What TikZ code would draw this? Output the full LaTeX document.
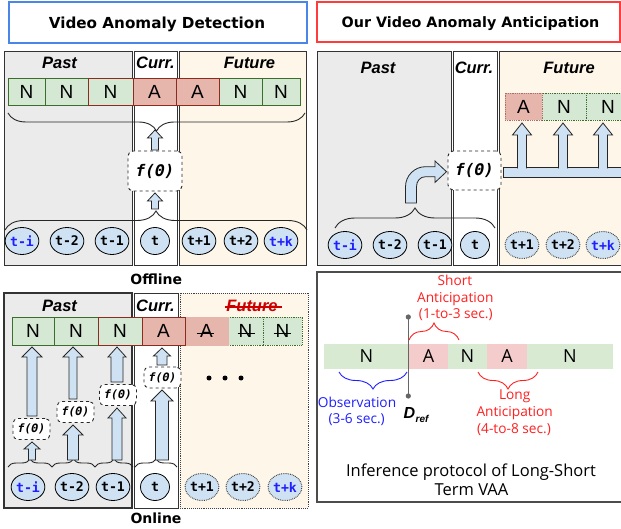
\documentclass[tikz,border=0pt]{standalone}
\usepackage{fontspec}
\setmainfont{Liberation Sans}
\newfontfamily\djb{DejaVu Sans}
\newfontfamily\djm{DejaVu Sans Mono}
\newfontfamily\osf{Open Sans}
\usetikzlibrary{decorations.pathreplacing,calc,shapes.geometric}
\definecolor{pastgray}{HTML}{EBEBEB}
\definecolor{futcream}{HTML}{FEF7E9}
\definecolor{cellgreen}{HTML}{D5E8D4}
\definecolor{cellred}{HTML}{E6B5AB}
\definecolor{greenline}{HTML}{3B6E2A}
\definecolor{redline}{HTML}{8E2B1F}
\definecolor{tblue}{HTML}{CFE2F3}
\definecolor{barg}{HTML}{D9EAD3}
\definecolor{barp}{HTML}{F4CCCC}
\definecolor{titleblue}{HTML}{4A86E8}
\definecolor{titlered}{HTML}{FF3B3B}
\definecolor{txtblue}{HTML}{1F1FFF}
\definecolor{annred}{HTML}{FF2020}
\definecolor{annblue}{HTML}{2020FF}
\newcommand\fsz[2]{\fontsize{#1}{#2}\selectfont}
\newcommand\cellnode[7]{\node[#6, minimum width={#3-#2}, minimum height={#5-#4}] (#1) at ({(#2+#3)/2},{(#4+#5)/2}) {#7};}
% block arrow from coordinate #1 (base) to coordinate #2 (tip): shaft half #3, head half #4, head length #5
\newcommand\blkup[5]{\filldraw[blk] let \p1=(#1), \p2=(#2) in
  (\x2-#3pt,\y1) -- (\x2-#3pt,\y2-#5pt) -- (\x2-#4pt,\y2-#5pt) -- (\x2,\y2) -- (\x2+#4pt,\y2-#5pt) -- (\x2+#3pt,\y2-#5pt) -- (\x2+#3pt,\y1) -- cycle;}
\tikzset{
  panel/.style={draw=black!80, line width=0.9pt},
  lbl/.style={font=\fsz{16.5}{19}\bfseries\itshape, inner sep=0, anchor=base},
  tok/.style={inner sep=0, line width=0.8pt, font=\fsz{19}{22}},
  gcell/.style={tok, fill=cellgreen, draw=greenline},
  rcell/.style={tok, fill=cellred, draw=redline},
  tcirc/.style={ellipse, minimum width=29pt, minimum height=27pt, inner sep=0, fill=tblue, draw=black, line width=0.8pt, font=\djm\bfseries\fsz{13.2}{15}},
  tdot/.style={tcirc, draw=black!75, densely dotted, line width=1pt},
  fbx/.style={draw=black!85, dashed, rounded corners=5pt, fill=white, line width=0.9pt, inner sep=0, font=\djm\bfseries\itshape},
  blk/.style={fill=tblue, draw=black!85, line width=0.8pt},
  brc/.style={decorate, decoration={brace, amplitude=#1}, draw=black!85, line width=0.9pt},
  brcd/.style={decorate, decoration={brace, mirror, amplitude=#1}, draw=black!85, line width=0.9pt},
  ttl/.style={font=\djb\bfseries, inner sep=0, anchor=base},
  ann/.style={font=\osf\fsz{13.7}{16}, inner sep=0, anchor=base},
  bar/.style={inner sep=0, font=\osf\fsz{18}{21}},
}
\begin{document}
\begin{tikzpicture}[x=1pt,y=-1pt]
\useasboundingbox (0,0) rectangle (621,529);
\fill[white] (0,0) rectangle (621,529);

% ---------- titles
\draw[titleblue, line width=1.1pt] (9,2) rectangle (307,43);
\node[ttl, font=\djb\bfseries\fsz{15.2}{18}] (titleL) at (157,28.5) {Video Anomaly Detection};
\draw[titlered, line width=1.1pt] (317,2) rectangle (620,42);
\node[ttl, font=\djb\bfseries\fsz{14.3}{17}] (titleR) at (470.5,27.5) {Our Video Anomaly Anticipation};

% ---------- top-left panel (offline)
\draw[panel, fill=pastgray] (4,51) rectangle (132,265);
\draw[panel, fill=white] (134,51) rectangle (177,265);
\draw[panel, fill=futcream] (179,51) rectangle (306,265);
\node[lbl] (pTL) at (59.5,68.5) {Past};
\node[lbl] (cTL) at (155.5,68.5) {Curr.};
\node[lbl] (fTL) at (249.5,68.5) {Future};
\cellnode{a1}{8}{45}{78}{105}{gcell}{N}
\cellnode{a2}{45}{88}{78}{105}{gcell}{N}
\cellnode{a6}{219}{262}{78}{105}{gcell}{N}
\cellnode{a7}{262}{300}{78}{105}{gcell}{N}
\cellnode{a3}{88}{133}{78}{105}{gcell, draw=redline}{N}
\cellnode{a5}{176}{219}{78}{105}{rcell}{A}
\cellnode{a4}{133}{176}{78}{105}{rcell}{A}
\draw[brcd=18] (8,113) -- (305,113);
\draw[brc=19] (5,230) -- (307,230);
\node[fbx, minimum width=54, minimum height=40, font=\djm\bfseries\itshape\fsz{16}{19}] (fA) at (155,171) {f(Θ)};
\coordinate (aL1b) at (155,209);
\coordinate (aL1t) at (155,193);
\coordinate (aL2b) at (155,150);
\coordinate (aL2t) at (155,130);
\blkup{aL1b}{aL1t}{3.5}{7.5}{8}
\blkup{aL2b}{aL2t}{3.5}{7.5}{8}
\node[tcirc, text=txtblue] (o1) at (22,241) {t-i};
\node[tcirc] (o2) at (67,241) {t-2};
\node[tcirc] (o3) at (112,241) {t-1};
\node[tcirc] (o4) at (155,241) {t};
\node[tcirc] (o5) at (199,241) {t+1};
\node[tcirc] (o6) at (241,241) {t+2};
\node[tcirc, text=txtblue] (o7) at (281,241) {t+k};
\node[ttl, font=\djb\bfseries\fsz{14}{17}] (offl) at (156.3,285) {Offline};

% ---------- bottom-left panel (online)
\draw[panel, fill=pastgray, line width=1.3pt] (4,293) rectangle (132,508);
\draw[panel, fill=white] (134,293) rectangle (178,508);
\draw[fill=futcream, draw=black!75, densely dotted, line width=0.9pt] (180,293) rectangle (308,508);
\node[lbl] (pBL) at (59.5,312) {Past};
\node[lbl] (cBL) at (155.5,312) {Curr.};
\node[lbl, text=red!80!black] (fBL) at (252,312) {Future};
\draw[red!80!black, line width=1.6pt] ($(fBL.west)+(-1,0.5)$) -- ($(fBL.east)+(4,0.5)$);
\cellnode{b1}{12}{54}{317}{345}{gcell}{N}
\cellnode{b2}{54}{98}{317}{345}{gcell}{N}
\cellnode{b6}{228}{263}{317}{345}{gcell, densely dotted}{N}
\cellnode{b7}{263}{302}{317}{345}{gcell, densely dotted}{N}
\cellnode{b5}{185}{228}{317}{345}{rcell, draw=cellred}{A}
\cellnode{b3}{98}{142}{317}{345}{gcell, draw=redline}{N}
\cellnode{b4}{142}{185}{317}{345}{rcell}{A}
\draw[line width=1pt] ($(b5)+(-10,2)$) -- ($(b5)+(7,2)$);
\draw[line width=1pt] ($(b6)+(-8,2)$) -- ($(b6)+(9,2)$);
\draw[line width=1pt] ($(b7)+(-9,2)$) -- ($(b7)+(8,2)$);
\draw[brc=8] (8,467) -- (52,467);
\draw[brc=8] (52,467) -- (95,467);
\draw[brc=8] (95,467) -- (133,467);
\draw[brc=8] (135,467) -- (177,467);
\foreach \n/\x/\y in {f1/31.5/429, f2/75.5/412, f3/118/395, f4/162.5/377.5}
  \node[fbx, minimum width=37, minimum height=21, font=\djm\bfseries\itshape\fsz{11.5}{13}] (\n) at (\x,\y) {f(Θ)};
\coordinate (c1a) at (32,460); \coordinate (c1b) at (32,442);
\coordinate (c1c) at (32,416); \coordinate (c1d) at (32,347);
\coordinate (c2a) at (73,460); \coordinate (c2b) at (73,425);
\coordinate (c2c) at (73,399); \coordinate (c2d) at (73,347);
\coordinate (c3a) at (117,460); \coordinate (c3b) at (117,408);
\coordinate (c3c) at (117,382); \coordinate (c3d) at (117,347);
\coordinate (c4a) at (162,460); \coordinate (c4b) at (162,390);
\coordinate (c4c) at (162,365); \coordinate (c4d) at (162,348);
\blkup{c1a}{c1b}{3.5}{8}{7}
\blkup{c1c}{c1d}{5}{10}{10}
\blkup{c2a}{c2b}{5.5}{10}{10}
\blkup{c2c}{c2d}{4}{10}{10}
\blkup{c3a}{c3b}{5}{9}{10}
\blkup{c3c}{c3d}{6}{9}{10}
\blkup{c4a}{c4b}{6.5}{11}{11}
\blkup{c4c}{c4d}{5}{8.5}{8}
\foreach \n/\x in {dt1/209,dt2/225,dt3/241}
  \node[circle, fill=black, inner sep=0, minimum size=5] (\n) at (\x,378) {};
\node[tcirc, text=txtblue] (q1) at (28,487) {t-i};
\node[tcirc] (q2) at (72,487) {t-2};
\node[tcirc] (q3) at (113,487) {t-1};
\node[tcirc] (q4) at (155,487) {t};
\node[tdot] (q5) at (202,487) {t+1};
\node[tdot] (q6) at (243,487) {t+2};
\node[tdot, text=txtblue] (q7) at (285,487) {t+k};
\node[ttl, font=\djb\bfseries\fsz{14}{17}] (onl) at (156,523) {Online};

% ---------- top-right panel (anticipation)
\draw[panel, fill=pastgray] (317,51) rectangle (451,265);
\draw[panel, fill=white] (453,51) rectangle (497,265);
\draw[panel, fill=futcream] (499,51) rectangle (630,265);
\node[lbl] (pTR) at (378,73.5) {Past};
\node[lbl] (cTR) at (474,73.5) {Curr.};
\node[lbl] (fTR) at (569,73.5) {Future};
\cellnode{e2}{542}{586}{93}{120}{gcell, densely dotted}{N}
\cellnode{e3}{586}{630}{93}{120}{gcell, densely dotted}{N}
\cellnode{e1}{505}{542}{93}{120}{rcell, draw=redline!70, densely dotted}{A}
\coordinate (r1a) at (522,168); \coordinate (r1b) at (522,123);
\coordinate (r2a) at (563,168); \coordinate (r2b) at (563,123);
\coordinate (r3a) at (603,168); \coordinate (r3b) at (603,123);
\draw[blk] (503,167) rectangle (630,177);
\blkup{r1a}{r1b}{4.5}{9.5}{12}
\blkup{r2a}{r2b}{4.5}{9.5}{12}
\blkup{r3a}{r3b}{4.5}{9.5}{12}
\foreach \x in {522,563,603} \fill[tblue] (\x-4,166) rectangle (\x+4,169.5);
\draw[brc=20] (335,228) -- (495,228);
\node[fbx, minimum width=53, minimum height=39, font=\djm\bfseries\itshape\fsz{16}{19}] (fB) at (474.5,170.5) {f(Θ)};
% bent arrow from brace tip to f box
\filldraw[blk] (405.5,203) -- (405.5,186.7) .. controls (405.5,175.7) and (414.5,166.7) .. (425.5,166.7)
  -- (435,166.7) -- (435,161) -- (446.5,171.7) -- (435,182.4) -- (435,176.7) -- (425.5,176.7)
  .. controls (420,176.7) and (416.5,181.2) .. (416.5,186.7) -- (416.5,203) -- cycle;
\node[tcirc, text=txtblue] (s1) at (345,245) {t-i};
\node[tcirc] (s2) at (390,245) {t-2};
\node[tcirc] (s3) at (435,245) {t-1};
\node[tcirc] (s4) at (475,245) {t};
\node[tdot] (s5) at (522,245) {t+1};
\node[tdot] (s6) at (563,245) {t+2};
\node[tdot, text=txtblue] (s7) at (603,245) {t+k};

% ---------- bottom-right panel (protocol)
\draw[draw=black!70, line width=1.2pt] (317,272) rectangle (630,502);
\cellnode{d1}{324}{409}{344}{369}{bar, fill=barg}{N}
\cellnode{d2}{409}{448}{344}{369}{bar, fill=barp}{A}
\cellnode{d3}{448}{487}{344}{369}{bar, fill=barg}{N}
\cellnode{d4}{487}{527}{344}{369}{bar, fill=barp}{A}
\cellnode{d5}{527}{613}{344}{369}{bar, fill=barg}{N}
\coordinate (dtop) at (408.3,317);
\coordinate (dbot) at (408.3,396);
\draw[black!60, line width=1.3pt] (dtop) -- (dbot);
\fill[black!60] (dtop) circle[radius=2.6pt] (dbot) circle[radius=2.6pt];
\draw[brcd=17, draw=annblue] (339,372) -- (407,372);
\draw[brc=17, draw=annred] (409,340) -- (459,340);
\draw[brcd=17, draw=annred] (478,372) -- (538,372);
\node[ann, text=annred] (sa1) at (455,285.5) {Short};
\node[ann, text=annred] (sa2) at (455.3,302.5) {Anticipation};
\node[ann, text=annred] (sa3) at (455.8,319) {(1-to-3 sec.)};
\node[ann, text=annblue] (ob1) at (357,407.7) {Observation};
\node[ann, text=annblue] (ob2) at (356.7,423.3) {(3-6 sec.)};
\node[ann, text=annred] (la1) at (514.7,399.3) {Long};
\node[ann, text=annred] (la2) at (514.7,416.7) {Anticipation};
\node[ann, text=annred] (la3) at (514,433.3) {(4-to-8 sec.)};
\node[inner sep=0, anchor=base west, font=\bfseries\itshape\fsz{16}{19}] (dref) at (403.5,418) {D};
\node[inner sep=0, anchor=base west, font=\bfseries\itshape\fsz{10}{12}] (drefs) at (dref.base east) {\raisebox{-4.5pt}{ref}};
\node[ann, font=\osf\fsz{16.5}{19}] (cap1) at (471,476) {Inference protocol of Long-Short};
\node[ann, font=\osf\fsz{16.5}{19}] (cap2) at (471.5,495) {Term VAA};
\end{tikzpicture}
\end{document}
